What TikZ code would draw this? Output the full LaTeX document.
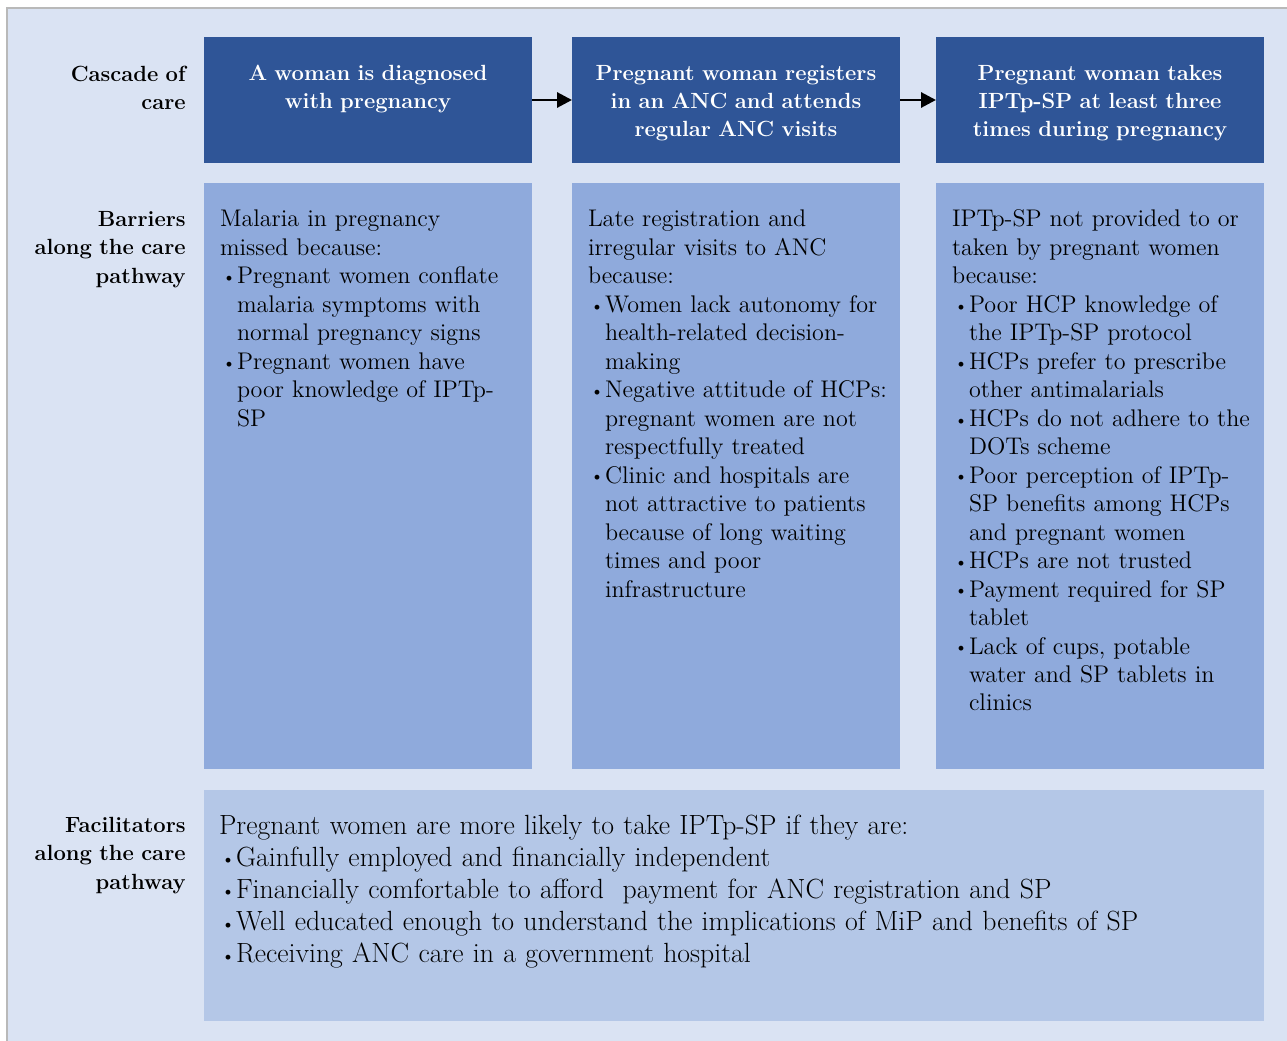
\documentclass[tikz,border=0pt]{standalone}
\usepackage{tikz}
\usetikzlibrary{positioning,arrows.meta}
\usepackage{xcolor}

\definecolor{bgblue}{HTML}{DAE3F3}
\definecolor{headblue}{HTML}{2F5597}
\definecolor{barblue}{HTML}{8FAADC}
\definecolor{facblue}{HTML}{B4C7E7}

% one bullet point, hanging under its own text
\newcommand{\bitem}[1]{\par\hangindent=0.34cm\hangafter=1\noindent\makebox[0.34cm][l]{\hspace{0.05cm}\raisebox{0.12ex}{\fontsize{9.5}{9.5}\selectfont\textbullet}}#1\par}

\begin{document}
\begin{tikzpicture}[
    >=Stealth,
    font=\fontsize{13.7}{16.2}\selectfont,
    head/.style={fill=headblue, text=white, font=\fontsize{12.5}{15.9}\selectfont\bfseries, inner xsep=0.1cm, inner ysep=0pt, outer sep=0pt, text width=6.36cm, align=center, text height=0.88cm, text depth=1.64cm},
    barrier/.style={fill=barblue, inner xsep=0.08cm, inner ysep=0pt, outer sep=0pt, text width=6.4cm, align=left, execute at begin node={\leftskip=0.24cm}, text height=0.88cm, text depth=10.84cm},
    facil/.style={fill=facblue, font=\fontsize{15.8}{18.3}\selectfont, inner xsep=0.3cm, inner ysep=0pt, outer sep=0pt, text width=20.6cm, align=left, text height=0.88cm, text depth=3.74cm},
    rowlab/.style={font=\fontsize{12.5}{16.2}\selectfont\bfseries, inner sep=0pt, text width=3.2cm, align=right},
    flow/.style={-{Triangle[length=0.3cm,width=0.3cm]}, line width=1.7pt},
  ]
    \useasboundingbox (0,0) rectangle (25.74,-20.82);
    \fill[bgblue] (0.14,-0.16) rectangle (25.74,-20.82);
    \draw[gray!55, line width=0.8pt] (0.14,-20.82) -- (0.14,-0.16) -- (25.74,-0.16);

    % cascade of care
    \node[head, anchor=north west] (diag) at (4.08,-0.74) {A woman is diagnosed\\with pregnancy};
    \node[head, right=0.8cm of diag] (anc) {Pregnant woman registers\\in an ANC and attends\\regular ANC visits};
    \node[head, right=0.72cm of anc] (iptp) {Pregnant woman takes\\IPTp-SP at least three\\times during pregnancy};

    \draw[flow] (diag) -- (anc);
    \draw[flow] (anc) -- (iptp);

    % barriers
    \node[barrier, below=0.4cm of diag] (missed) {Malaria in pregnancy\\missed because:
      \bitem{Pregnant women conflate\newline malaria symptoms with\newline normal pregnancy signs}
      \bitem{Pregnant women have\newline poor knowledge of IPTp-\newline SP}};
    \node[barrier, below=0.4cm of anc] (late) {Late registration and\\irregular visits to ANC\\because:
      \bitem{Women lack autonomy for\newline health-related decision-\newline making}
      \bitem{Negative attitude of HCPs:\newline pregnant women are not\newline respectfully treated}
      \bitem{Clinic and hospitals are\newline not attractive to patients\newline because of long waiting\newline times and poor\newline infrastructure}};
    \node[barrier, below=0.4cm of iptp] (notgiven) {IPTp-SP not provided to or\\taken by pregnant women\\because:
      \bitem{Poor HCP knowledge of\newline the IPTp-SP protocol}
      \bitem{HCPs prefer to prescribe\newline other antimalarials}
      \bitem{HCPs do not adhere to the\newline DOTs scheme}
      \bitem{Poor perception of IPTp-\newline SP benefits among HCPs\newline and pregnant women}
      \bitem{HCPs are not trusted}
      \bitem{Payment required for SP\newline tablet}
      \bitem{Lack of cups, potable\newline water and SP tablets in\newline clinics}};

    % facilitators
    \node[facil, below=0.42cm of missed.south west, anchor=north west] (likely) {Pregnant women are more likely to take IPTp-SP if they are:
      \bitem{Gainfully employed and financially independent}
      \bitem{Financially comfortable to afford\ \ payment for ANC registration and SP}
      \bitem{Well educated enough to understand the implications of MiP and benefits of SP}
      \bitem{Receiving ANC care in a government hospital}};

    % row labels
    \node[rowlab, left=0.36cm of diag.north west, anchor=north east, text height=0.88cm] (cascade) {Cascade of\\care};
    \node[rowlab, left=0.36cm of missed.north west, anchor=north east, text height=0.86cm] (barriers) {Barriers\\along the care\\pathway};
    \node[rowlab, left=0.36cm of likely.north west, anchor=north east, text height=0.84cm] (facilitators) {Facilitators\\along the care\\pathway};
  \end{tikzpicture}
\end{document}
